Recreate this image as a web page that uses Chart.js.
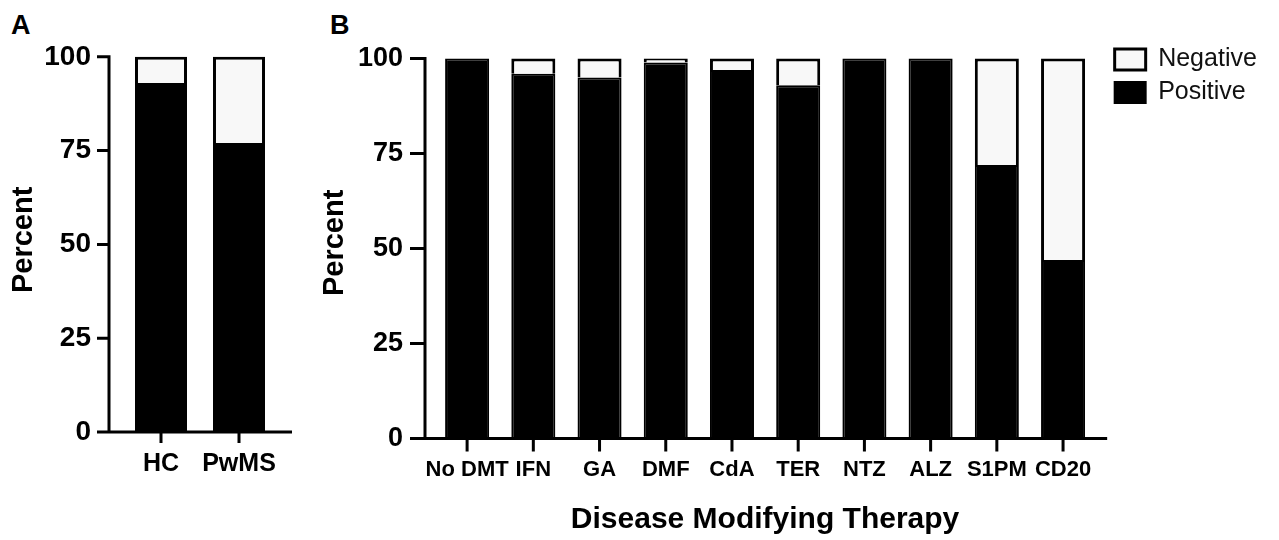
<!DOCTYPE html>
<html>
<head>
<meta charset="utf-8">
<script src="https://cdn.jsdelivr.net/npm/chart.js@4/dist/chart.umd.min.js"></script>
<style>
  body { margin: 0; background: #fff; width: 1279px; height: 540px; position: relative; overflow: hidden; }
  .panel { position: absolute; top: 0; }
  .tag { position: absolute; font: bold 27px "Liberation Sans", Arial, sans-serif; line-height: 1; color: #000; }
</style>
</head>
<body>
<div class="tag" style="left:11px; top:12px;">A</div>
<div class="tag" style="left:330px; top:12px;">B</div>
<canvas id="chartA" class="panel" style="left:0px" width="320" height="540"></canvas>
<canvas id="chartB" class="panel" style="left:320px" width="959" height="540"></canvas>
<script>
// Panel A: healthy controls vs people with MS
const groupLabels = ['HC', 'PwMS'];
const groupPositive = [93, 77];
const groupNegative = [7, 23];

// Panel B: by disease modifying therapy
const dmtLabels = ['No DMT', 'IFN', 'GA', 'DMF', 'CdA', 'TER', 'NTZ', 'ALZ', 'S1PM', 'CD20'];
const dmtPositive = [100, 96, 95, 99, 97, 93, 100, 100, 72, 47];
const dmtNegative = [0, 4, 5, 1, 3, 7, 0, 0, 28, 53];

const yTicks = [0, 25, 50, 75, 100];

const FONT = '"Liberation Sans", Arial, sans-serif';

// GraphPad-like axes: detached y axis, x axis running past both ends
const gpAxes = {
  id: 'gpAxes',
  afterDatasetsDraw(chart, args, opts) {
    const { ctx, chartArea, scales: { x, y } } = chart;
    const lw = opts.lineWidth;
    const axisX = chartArea.left - opts.yGap;
    const y0 = y.getPixelForValue(0);
    const yTop = y.getPixelForValue(yTicks[yTicks.length - 1]);
    ctx.save();
    ctx.strokeStyle = '#000';
    ctx.lineWidth = lw;
    ctx.beginPath();
    ctx.moveTo(axisX, y0);
    ctx.lineTo(axisX, yTop - lw / 2);
    yTicks.forEach(v => {
      const py = y.getPixelForValue(v);
      ctx.moveTo(axisX - opts.yTick, py);
      ctx.lineTo(axisX + lw / 2, py);
    });
    ctx.moveTo(axisX - opts.yTick, y0);
    ctx.lineTo(chartArea.right + opts.xExt, y0);
    x.ticks.forEach((t, i) => {
      const px = x.getPixelForValue(i);
      ctx.moveTo(px, y0);
      ctx.lineTo(px, y0 + opts.xTick);
    });
    ctx.stroke();
    ctx.restore();
  }
};

function datasets(pos, neg, barPct) {
  return [
    {
      label: 'Positive',
      data: pos,
      backgroundColor: '#000',
      borderColor: '#000',
      borderWidth: 2,
      barPercentage: barPct,
      categoryPercentage: 1
    },
    {
      label: 'Negative',
      data: neg,
      backgroundColor: '#f8f8f8',
      borderColor: '#000',
      borderWidth: 3,
      barPercentage: barPct,
      categoryPercentage: 1
    }
  ];
}

function yScale(width, max, titlePad, fontSize) {
  return {
    stacked: true,
    min: 0,
    max: max,
    afterBuildTicks: s => { s.ticks = yTicks.map(v => ({ value: v })); },
    afterFit: s => { s.width = width; },
    grid: { display: false, drawTicks: false },
    border: { display: false },
    ticks: { padding: 31, color: '#000', font: { family: FONT, size: fontSize, weight: 'bold' } },
    title: {
      display: true,
      text: 'Percent',
      color: '#000',
      font: { family: FONT, size: 29, weight: 'bold', lineHeight: 1 },
      padding: { top: titlePad, bottom: 0 }
    }
  };
}

Chart.defaults.animation = false;

new Chart(document.getElementById('chartA'), {
  type: 'bar',
  data: { labels: groupLabels, datasets: datasets(groupPositive, groupNegative, 0.667) },
  plugins: [gpAxes],
  options: {
    responsive: false,
    devicePixelRatio: 1,
    events: [],
    layout: { padding: { top: 47, right: 42, bottom: 0, left: 0 } },
    scales: {
      x: {
        stacked: true,
        afterFit: s => { s.height = 108; },
        grid: { display: false, drawTicks: false },
        border: { display: false },
        ticks: { padding: 17.6, color: '#000', maxRotation: 0, autoSkip: false,
                 font: { family: FONT, size: 25, weight: 'bold' } }
      },
      y: yScale(122, 102.4, 9.5, 28)
    },
    plugins: {
      legend: { display: false },
      tooltip: { enabled: false },
      gpAxes: { lineWidth: 3, yGap: 13, yTick: 12, xTick: 11, xExt: 14 }
    }
  }
});

new Chart(document.getElementById('chartB'), {
  type: 'bar',
  data: { labels: dmtLabels, datasets: datasets(dmtPositive, dmtNegative, 0.665) },
  plugins: [gpAxes],
  options: {
    responsive: false,
    devicePixelRatio: 1,
    events: [],
    layout: { padding: { top: 39, right: 15, bottom: 0, left: 0 } },
    scales: {
      x: {
        stacked: true,
        afterFit: s => { s.height = 101.5; },
        grid: { display: false, drawTicks: false },
        border: { display: false },
        ticks: { padding: 18.3, color: '#000', maxRotation: 0, autoSkip: false,
                 font: { family: FONT, size: 22, weight: 'bold' } },
        title: {
          display: true,
          text: 'Disease Modifying Therapy',
          color: '#000',
          font: { family: FONT, size: 30, weight: 'bold' },
          padding: { top: 0, bottom: 2 }
        }
      },
      y: yScale(114, 103, 0, 27),
      // spacer between plot and legend
      gap: {
        position: 'right',
        afterFit: s => { s.width = 10.5; },
        grid: { display: false, drawTicks: false },
        border: { display: false },
        ticks: { display: false }
      }
    },
    plugins: {
      legend: {
        position: 'right',
        align: 'start',
        reverse: true,
        labels: {
          boxWidth: 31,
          boxHeight: 21,
          padding: 8,
          color: '#111',
          font: { family: FONT, size: 25 }
        }
      },
      tooltip: { enabled: false },
      gpAxes: { lineWidth: 3, yGap: 9, yTick: 15, xTick: 13, xExt: 11 }
    }
  }
});
</script>
</body>
</html>
